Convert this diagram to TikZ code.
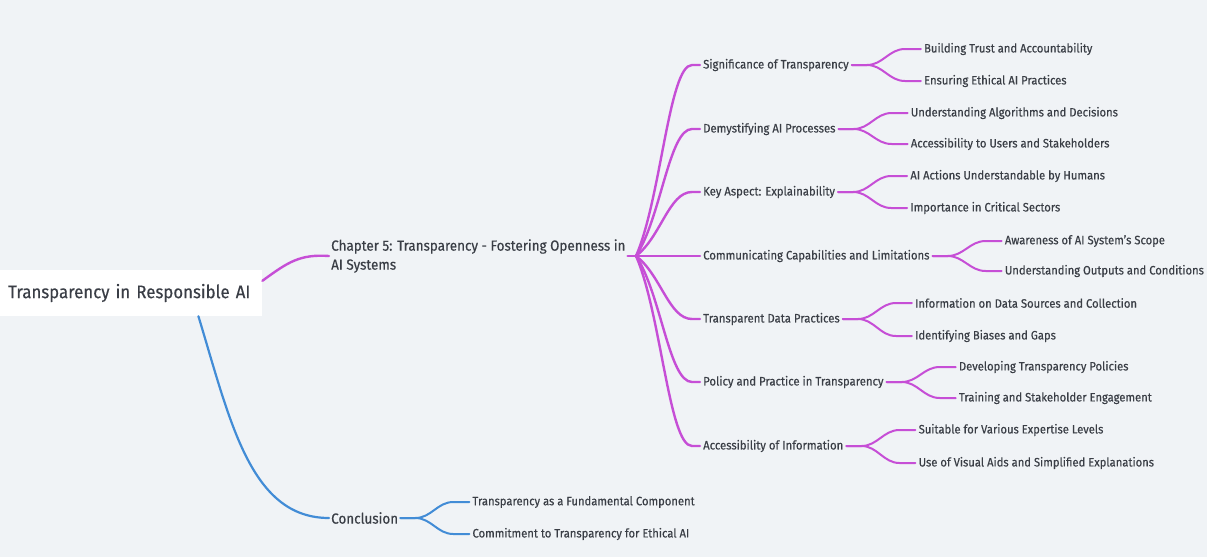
\documentclass[tikz,border=0pt]{standalone}
\usepackage{fontspec}
\setmainfont{Fira Sans}[FakeStretch=0.92, FakeBold=0.4]
\usetikzlibrary{calc}
\definecolor{bg}{RGB}{240,243,246}
\definecolor{mag}{RGB}{198,78,214}
\definecolor{blu}{RGB}{66,140,214}
\definecolor{txt}{RGB}{58,62,70}
\begin{document}
\begin{tikzpicture}[x=1pt,y=-1pt,
  rootnode/.style={fill=white, text=txt, font=\fontsize{18.3}{21}\selectfont, anchor=west,
    text width=246pt, align=left, inner xsep=8pt, minimum height=46pt},
  chapt/.style={font=\fontsize{14.6}{19}\selectfont, text=txt, align=left, inner xsep=2pt, inner ysep=0pt, anchor=west},
  lvl/.style={font=\fontsize{12.3}{14}\selectfont, text=txt, inner xsep=3pt, inner ysep=1pt, anchor=west},
  leafnode/.style={font=\fontsize{12.2}{14}\selectfont, text=txt, inner xsep=3pt, inner ysep=1pt, anchor=west},
  wa/.style={draw=mag, line width=2.4pt, line cap=round},
  wb/.style={draw=mag, line width=2pt, line cap=round},
  ba/.style={draw=blu, line width=2.2pt, line cap=round},
  bb/.style={draw=blu, line width=2pt, line cap=round}]
\fill[bg] (0,0) rectangle (1207,557);
\useasboundingbox (0,0) rectangle (1207,557);

% root
\node[rootnode] (root) at (0,293) {Transparency in Responsible AI};
% chapter
\node[chapt] (chap) at (329,256) {Chapter 5: Transparency - Fostering Openness in\\AI Systems};
\node[chapt, font=\fontsize{14.6}{17}\selectfont] (conc) at (329,518) {Conclusion};
\coordinate (hub) at (636,256);

% level 2
\foreach \nm/\y/\tx in {sig/65/Significance of Transparency,
  dem/129/Demystifying AI Processes,
  key/192/Key Aspect: Explainability,
  com/256/Communicating Capabilities and Limitations,
  tdp/319/Transparent Data Practices,
  pol/382/Policy and Practice in Transparency,
  acc/446/Accessibility of Information}{
  \node[lvl] (\nm) at (700,\y) {\tx};
  \draw[wa] (hub) .. controls ($(hub)+(25,{0.3*(\y-256)})$) and ($(hub)+(33,{\y-256})$) .. ($(hub)+(56,{\y-256})$) -- (\nm.west);
}

% leaves
\foreach \p/\l/\dy/\tx in {sig/sa/-16/Building Trust and Accountability,
  sig/sb/16/Ensuring Ethical AI Practices,
  dem/da/-16/Understanding Algorithms and Decisions,
  dem/db/15/Accessibility to Users and Stakeholders,
  key/ka/-16/AI Actions Understandable by Humans,
  key/kb/16/Importance in Critical Sectors,
  com/ca/-15/Awareness of AI System's Scope,
  com/cb/15/Understanding Outputs and Conditions,
  tdp/ta/-16/Information on Data Sources and Collection,
  tdp/tb/17/Identifying Biases and Gaps,
  pol/pa/-15/Developing Transparency Policies,
  pol/pb/16/Training and Stakeholder Engagement,
  acc/aa/-16/Suitable for Various Expertise Levels,
  acc/ab/17/Use of Visual Aids and Simplified Explanations}{
  \node[leafnode] (\l) at ($(\p.east)+(69,\dy)$) {\tx};
  \draw[wb] (\p.east) -- ++(15,0) .. controls +(16,0) and ($(\l.west)+(-32,0)$) .. ($(\l.west)+(-16,0)$) -- (\l.west);
}

% conclusion leaves
\foreach \l/\dy/\tx in {ca1/-16/Transparency as a Fundamental Component,
  ca2/16/Commitment to Transparency for Ethical AI}{
  \node[leafnode] (\l) at ($(conc.east)+(69,\dy)$) {\tx};
  \draw[bb] (conc.east) -- ++(15,0) .. controls +(16,0) and ($(\l.west)+(-32,0)$) .. ($(\l.west)+(-16,0)$) -- (\l.west);
}

% root connectors
\draw[wa] ($(root.north east)+(0,11)$) .. controls (288,262) and (300,254) .. (chap.west);
\draw[wa] (chap.east) -- (hub);
\draw[ba] ($(root.south east)+(-64,0)$) .. controls (230,420) and (250,518) .. (conc.west);
\end{tikzpicture}
\end{document}
